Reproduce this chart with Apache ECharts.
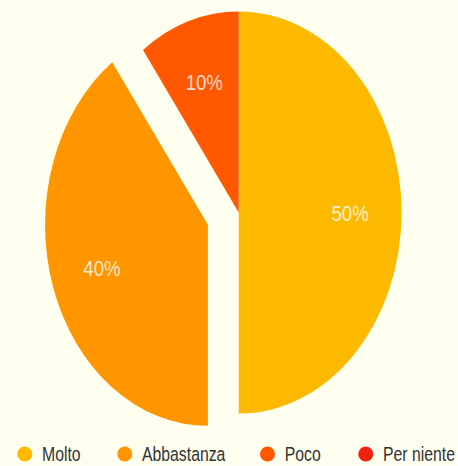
<!DOCTYPE html>
<html>
<head>
<meta charset="utf-8">
<title>Pie</title>
<script src="https://cdn.jsdelivr.net/npm/echarts@6/dist/echarts.min.js"></script>
<style>
  html, body { margin: 0; padding: 0; background: #FFFFF0; overflow: hidden; }
  /* the reference pie is squeezed horizontally, so draw wide and squeeze */
  #chart { width: 566px; height: 466px; transform: scaleX(0.81); transform-origin: 0 0; }
</style>
</head>
<body>
<div id="chart"></div>
<script>
// data
const categories = ['Molto', 'Abbastanza', 'Poco', 'Per niente'];
const values = [50, 40, 10, 0];
const explodedCategory = 'Abbastanza';

const palette = ['#FCB900', '#FF9600', '#FF5800', '#F2200E'];
// left edge of each legend entry (unsqueezed px)
const legendLefts = [21.4, 144.8, 321, 442.3];
// ellipse icon that ends up round after the squeeze
const legendIcon = 'path://M0,50 A61.7,50 0 1,0 123.4,50 A61.7,50 0 1,0 0,50 Z';

const chart = echarts.init(document.getElementById('chart'), null, { renderer: 'svg' });

const seriesData = categories.map((name, i) => ({
  name: name,
  value: values[i],
  selected: name === explodedCategory
}));

// one legend per entry so each sits where the reference has it
const legends = categories.map((name, i) => ({
  data: [name],
  left: legendLefts[i],
  top: 444,
  padding: 0,
  icon: legendIcon,
  itemWidth: 18.5,
  itemHeight: 15,
  selectedMode: false,
  textStyle: {
    fontFamily: 'Liberation Sans',
    fontSize: 19.5,
    color: '#333',
    padding: [0, 0, 0, 7]
  }
}));

const option = {
  backgroundColor: '#FFFFF0',
  animation: false,
  color: palette,
  legend: legends,
  series: [
    {
      name: 'pie',
      type: 'pie',
      center: [294.7, 212.5],
      radius: [0, 201],
      startAngle: 90,
      clockwise: true,
      selectedMode: 'single',
      selectedOffset: 40,
      avoidLabelOverlap: false,
      label: { show: false },
      labelLine: { show: false },
      itemStyle: { borderWidth: 0 },
      emphasis: { disabled: true },
      data: seriesData
    },
    {
      // transparent ring only used to place the labels further out
      name: 'labels',
      type: 'pie',
      silent: true,
      center: [294.7, 212.5],
      radius: [68, 201],
      startAngle: 90,
      clockwise: true,
      selectedMode: 'single',
      selectedOffset: 40,
      avoidLabelOverlap: false,
      itemStyle: { color: 'rgba(0,0,0,0)', borderWidth: 0 },
      emphasis: { disabled: true },
      labelLine: { show: false },
      label: {
        show: true,
        position: 'inside',
        fontFamily: 'Liberation Sans',
        fontSize: 23,
        color: 'rgba(255,255,255,0.82)',
        formatter: p => (p.value ? p.value + '%' : '')
      },
      data: seriesData
    }
  ]
};

chart.setOption(option);
</script>
</body>
</html>
